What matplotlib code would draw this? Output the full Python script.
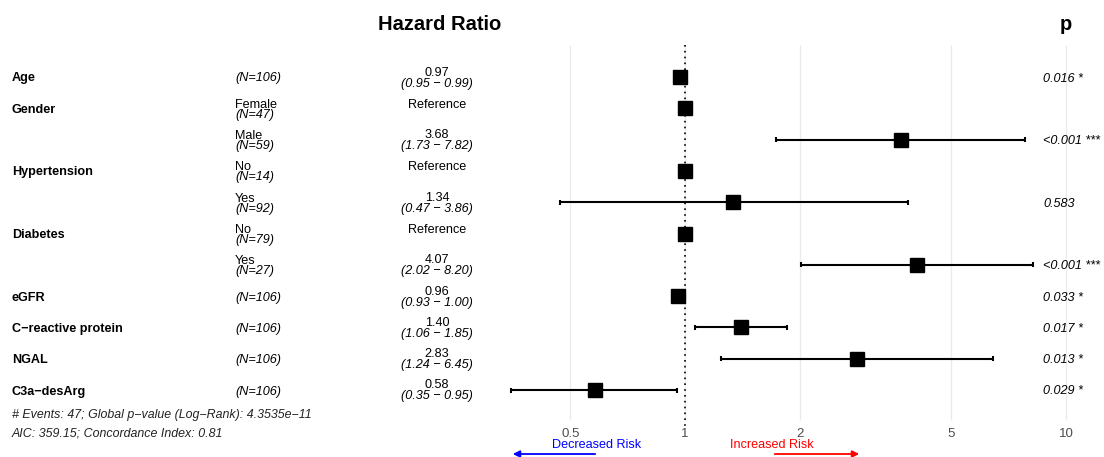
import matplotlib
matplotlib.use("Agg")
import matplotlib.pyplot as plt
import numpy as np
from matplotlib.transforms import blended_transform_factory

plt.rcParams['font.family'] = ['Liberation Sans', 'DejaVu Sans']

# ---- data ----
variables = ["Age", "Gender", "", "Hypertension", "", "Diabetes", "", "eGFR",
             "C\u2212reactive protein", "NGAL", "C3a\u2212desArg"]
levels = ["", "Female", "Male", "No", "Yes", "No", "Yes", "", "", "", ""]
n_obs = [106, 47, 59, 14, 92, 79, 27, 106, 106, 106, 106]
hr = [0.97, 1.0, 3.68, 1.0, 1.34, 1.0, 4.07, 0.96, 1.40, 2.83, 0.58]
ci_low = [0.95, np.nan, 1.73, np.nan, 0.47, np.nan, 2.02, 0.93, 1.06, 1.24, 0.35]
ci_high = [0.99, np.nan, 7.82, np.nan, 3.86, np.nan, 8.20, 1.00, 1.85, 6.45, 0.95]
is_ref = [False, True, False, True, False, True, False, False, False, False, False]
p_text = ["0.016 *", "", "<0.001 ***", "", "0.583", "", "<0.001 ***",
          "0.033 *", "0.017 *", "0.013 *", "0.029 *"]
x_ticks = [0.5, 1, 2, 5, 10]
x_tick_labels = ["0.5", "1", "2", "5", "10"]
footer1 = "# Events: 47; Global p\u2212value (Log\u2212Rank): 4.3535e\u221211"
footer2 = "AIC: 359.15; Concordance Index: 0.81"

W, H = 1104, 457
fig = plt.figure(figsize=(W / 100, H / 100), dpi=100)
ax = fig.add_axes([0, 0, 1, 1])
ax.set_xscale('log')
# pixel mapping: 1 -> 685 px, 10 -> 1066 px
ppd = 381.0
x0 = 685.0
ax.set_xlim(10 ** ((0 - x0) / ppd), 10 ** ((W - x0) / ppd))
ax.set_ylim(H, 0)
ax.axis('off')

def fx(px):
    return px / W  # figure fraction along x

tr = blended_transform_factory(ax.transAxes, ax.transData)

row_y0 = 77.0
row_dy = 31.3
ys = [row_y0 + i * row_dy for i in range(len(hr))]

grid_top, grid_bot = 45, 420
ax.vlines(x_ticks, grid_top, grid_bot, color='#ebebeb', lw=1.0, zorder=0)
ax.vlines(1, grid_top, 428, color='black', lw=1.2, linestyles=(0, (1, 2.5)), zorder=1)

for lab, t in zip(x_tick_labels, x_ticks):
    ax.text(t, 434, lab, ha='center', va='center', fontsize=9.5, color='#4d4d4d')

# CIs and points
for y, h, lo, hi, ref in zip(ys, hr, ci_low, ci_high, is_ref):
    if not ref:
        ax.hlines(y, lo, hi, color='black', lw=1.5, zorder=2)
        ax.vlines([lo, hi], y - 2.5, y + 2.5, color='black', lw=1.5, zorder=2)
    ax.plot([h], [y], marker='s', ms=10, color='black', zorder=3)

fs = 9.1
dt = 1.5  # text baseline nudge
for i, y0 in enumerate(ys):
    y = y0 + dt
    if variables[i]:
        ax.text(fx(12), y, variables[i], transform=tr, ha='left', va='center',
                fontsize=fs, fontweight='bold')
    if levels[i]:
        ax.text(fx(235), y - 5, levels[i], transform=tr, ha='left', va='center', fontsize=fs)
        ax.text(fx(235), y + 5, f"(N={n_obs[i]})", transform=tr, ha='left', va='center',
                fontsize=fs, style='italic')
    else:
        ax.text(fx(235), y, f"(N={n_obs[i]})", transform=tr, ha='left', va='center',
                fontsize=fs, style='italic')
    if is_ref[i]:
        ax.text(fx(437), y - 5, "Reference", transform=tr, ha='center', va='center', fontsize=fs)
    else:
        ax.text(fx(437), y - 6, f"{hr[i]:.2f}", transform=tr, ha='center', va='center', fontsize=fs)
        ax.text(fx(437), y + 5, f"({ci_low[i]:.2f} \u2212 {ci_high[i]:.2f})", transform=tr,
                ha='center', va='center', fontsize=fs, style='italic')
    if p_text[i]:
        ax.text(fx(1043), y, p_text[i], transform=tr, ha='left', va='center',
                fontsize=fs, style='italic')

ax.text(fx(440), 25, "Hazard Ratio", transform=tr, ha='center', va='center',
        fontsize=14.5, fontweight='bold')
ax.text(fx(1066), 25, "p", transform=tr, ha='center', va='center',
        fontsize=14.5, fontweight='bold')

ax.text(fx(12), 415, footer1, transform=tr, ha='left', va='center', fontsize=8.9, style='italic',
        color='#222222')
ax.text(fx(12), 434, footer2, transform=tr, ha='left', va='center', fontsize=8.9, style='italic',
        color='#222222')

# risk arrows
ax.text(fx(597), 445, "Decreased Risk", transform=tr, ha='center', va='center',
        fontsize=9.1, color='blue')
ax.text(fx(772), 445, "Increased Risk", transform=tr, ha='center', va='center',
        fontsize=9.1, color='red')
ax.annotate("", xy=(fx(510), 454), xytext=(fx(598), 454), xycoords=tr, textcoords=tr,
            arrowprops=dict(arrowstyle='-|>', color='blue', lw=1.3, mutation_scale=10))
ax.annotate("", xy=(fx(862), 454), xytext=(fx(772), 454), xycoords=tr, textcoords=tr,
            arrowprops=dict(arrowstyle='-|>', color='red', lw=1.3, mutation_scale=10))

fig.savefig("out.png", dpi=100)
